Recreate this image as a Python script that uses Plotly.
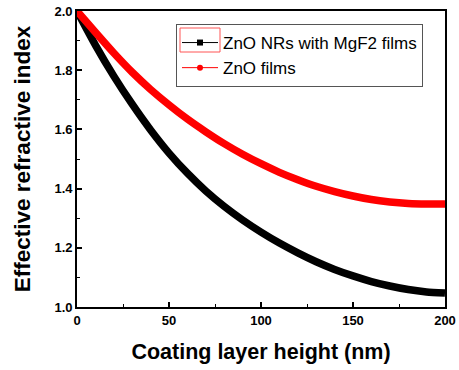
import plotly.graph_objects as go

# Coating layer height (nm)
heights = [0, 10, 20, 30, 40, 50, 60, 70, 80, 90, 100, 110, 120, 130, 140, 150, 160, 170, 180, 190, 200]

# Effective refractive index
n_nrs_mgf2 = [2.0, 1.885, 1.78, 1.685, 1.598, 1.52, 1.452, 1.392, 1.34, 1.294, 1.253,
              1.216, 1.183, 1.153, 1.127, 1.105, 1.086, 1.071, 1.059, 1.051, 1.047]
n_zno_films = [2.0, 1.928, 1.858, 1.793, 1.735, 1.683, 1.635, 1.592, 1.552, 1.516, 1.484,
               1.455, 1.43, 1.408, 1.39, 1.375, 1.363, 1.355, 1.35, 1.348, 1.348]

series_names = ["ZnO NRs with MgF2 films", "ZnO films"]
series_colors = ["#000000", "#ff0000"]
legend_symbols = ["square", "circle"]

FONT = "Arial, Liberation Sans, sans-serif"

fig = go.Figure()

# legend entries (thin line + marker)
for name, col, sym in zip(series_names, series_colors, legend_symbols):
    fig.add_trace(go.Scatter(x=[None], y=[None], mode="lines+markers", name=name,
                             line=dict(color=col, width=1),
                             marker=dict(color=col, symbol=sym, size=6)))

# thick data curves (dense markers in the original)
for vals, col in zip([n_nrs_mgf2, n_zno_films], series_colors):
    fig.add_trace(go.Scatter(x=heights, y=vals, mode="lines", showlegend=False,
                             line=dict(color=col, width=7.5, shape="spline", smoothing=0.6)))

fig.update_layout(
    width=459, height=370,
    margin=dict(l=77, r=14, t=11, b=63, autoexpand=False),
    paper_bgcolor="white", plot_bgcolor="white",
    font=dict(family=FONT, color="black"),
    showlegend=True,
    legend=dict(x=(176 - 77) / 368, y=1 - (24 - 11) / 296, xanchor="left", yanchor="top",
                bgcolor="rgba(0,0,0,0)", bordercolor="#555555", borderwidth=1,
                font=dict(family=FONT, size=17, color="black"),
                itemwidth=36, tracegroupgap=0, itemsizing="trace"),
    xaxis=dict(
        range=[0, 200], dtick=50, tick0=0, automargin=False,
        ticks="inside", ticklen=5, tickwidth=1.5, tickcolor="black",
        minor=dict(dtick=25, ticks="inside", ticklen=3, tickwidth=1.2, tickcolor="black"),
        showline=True, linecolor="black", linewidth=1.8, mirror=True,
        showgrid=False, zeroline=False,
        tickfont=dict(family=FONT, size=13, weight="bold", color="black"),
        title=dict(text="Coating layer height (nm)", standoff=17,
                   font=dict(family=FONT, size=21.5, weight="bold", color="black")),
    ),
    yaxis=dict(
        range=[1.0, 2.0], dtick=0.2, tick0=1.0, tickformat=".1f", automargin=False,
        ticks="inside", ticklen=5, tickwidth=1.5, tickcolor="black",
        minor=dict(dtick=0.1, ticks="inside", ticklen=3, tickwidth=1.2, tickcolor="black"),
        showline=True, linecolor="black", linewidth=1.8, mirror=True,
        showgrid=False, zeroline=False,
        tickfont=dict(family=FONT, size=13, weight="bold", color="black"),
        title=dict(text="Effective refractive index", standoff=18,
                   font=dict(family=FONT, size=22.5, weight="bold", color="black")),
    ),
)

# thin red selection rectangle around first legend symbol (as in the original)
fig.add_shape(type="rect", xref="paper", yref="paper",
              x0=(180 - 77) / 368, x1=(220 - 77) / 368,
              y0=(307 - 52) / 296, y1=(307 - 28) / 296,
              line=dict(color="#ff5555", width=1), fillcolor="rgba(0,0,0,0)")

fig.write_html("out.html", config={"displayModeBar": False},
               post_script="document.body.style.margin='0';document.body.style.overflow='hidden';")
